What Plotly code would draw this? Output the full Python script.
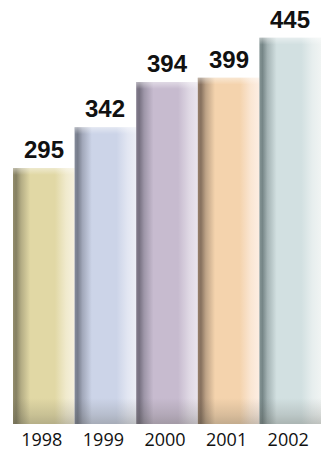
import plotly.graph_objects as go

# Annual totals
years = ["1998", "1999", "2000", "2001", "2002"]
values = [295, 342, 394, 399, 445]

# Per-bar shading: left edge shadow, main body, right highlight
edge_colors = ["#858062", "#777d8c", "#767080", "#86705e", "#768687"]
body_colors = ["#e1d8a5", "#ccd4e8", "#c7bbcf", "#f4d3ad", "#d2e0e1"]
light_colors = ["#f6f1de", "#eceef6", "#e9e4ed", "#fdeee3", "#f0f4f3"]


def mix(c1, c2, t):
    a = [int(c1[i:i + 2], 16) for i in (1, 3, 5)]
    b = [int(c2[i:i + 2], 16) for i in (1, 3, 5)]
    return "#%02x%02x%02x" % tuple(round(a[k] + (b[k] - a[k]) * t) for k in range(3))


fig = go.Figure()
half = 0.5
for i, (yr, v) in enumerate(zip(years, values)):
    dark, body, light = edge_colors[i], body_colors[i], light_colors[i]
    xs = [i - half, i + half, i + half, i - half, i - half]
    ys = [0, 0, v, v, 0]
    fig.add_trace(go.Scatter(
        x=xs, y=ys, mode="lines", line=dict(width=0),
        fill="toself",
        fillgradient=dict(
            type="horizontal",
            colorscale=[
                [0.0, mix(dark, body, 0.15)],
                [0.05, dark],
                [0.13, mix(dark, body, 0.5)],
                [0.28, body],
                [0.68, body],
                [0.86, mix(body, light, 0.7)],
                [1.0, light],
            ],
        ),
        hoverinfo="skip", showlegend=False,
    ))
    # soft darkening toward the foot of each bar
    foot = 30
    fig.add_trace(go.Scatter(
        x=xs, y=[0, 0, foot, foot, 0], mode="lines", line=dict(width=0),
        fill="toself",
        fillgradient=dict(
            type="vertical",
            colorscale=[
                [0.0, "rgba(70,70,60,0.28)"],
                [0.35, "rgba(70,70,60,0.16)"],
                [1.0, "rgba(70,70,60,0.0)"],
            ],
        ),
        hoverinfo="skip", showlegend=False,
    ))
    # pale haze along the top edge
    fig.add_trace(go.Scatter(
        x=xs, y=[v - 8, v - 8, v, v, v - 8], mode="lines", line=dict(width=0),
        fill="toself",
        fillgradient=dict(
            type="vertical",
            colorscale=[
                [0.0, "rgba(255,255,255,0.0)"],
                [1.0, "rgba(255,255,255,0.45)"],
            ],
        ),
        hoverinfo="skip", showlegend=False,
    ))

# Value labels above bars
for i, v in enumerate(values):
    fig.add_annotation(
        x=i, y=v, text=str(v), showarrow=False,
        yanchor="bottom", yshift=3,
        font=dict(family="Liberation Sans Narrow, Liberation Sans, Arial, sans-serif",
                  size=24, color="#111111", weight="bold"),
    )

fig.update_layout(
    width=321, height=459,
    margin=dict(l=13, r=0, t=0, b=35),
    paper_bgcolor="white", plot_bgcolor="white",
    xaxis=dict(
        range=[-0.5, 4.5], tickmode="array",
        tickvals=list(range(len(years))), ticktext=years,
        showgrid=False, zeroline=False, showline=False, ticks="",
        tickfont=dict(family="Open Sans", size=18, color="#111111"),
        ticklabelshift=-2, ticklabelstandoff=3,
    ),
    yaxis=dict(
        range=[0, 488.5], visible=False, showgrid=False, zeroline=False,
    ),
)

fig.write_html("out.html")
